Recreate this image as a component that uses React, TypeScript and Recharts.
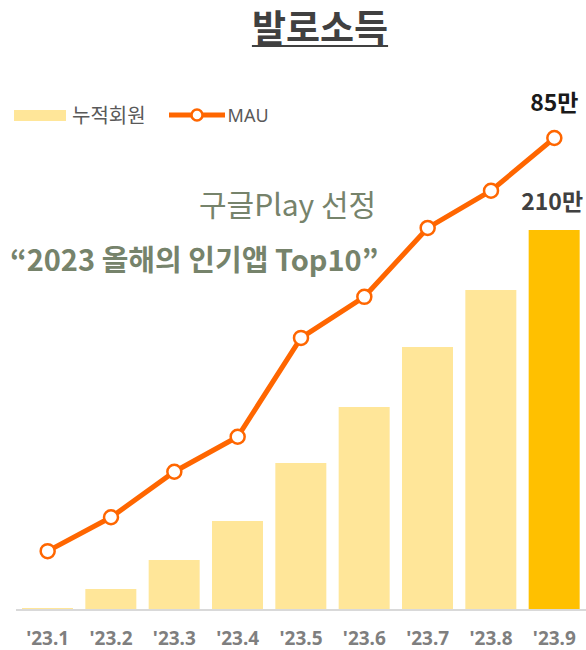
import React from "react";
import { ComposedChart, Bar, Line, XAxis, YAxis, Cell, LabelList } from "recharts";

const categories = ["'23.1", "'23.2", "'23.3", "'23.4", "'23.5", "'23.6", "'23.7", "'23.8", "'23.9"];
const members = [1.1, 11.6, 27.6, 49.2, 81.2, 112.2, 145.3, 176.8, 210];
const mau = [10.6, 16.7, 24.9, 31.2, 49.0, 56.4, 68.8, 75.5, 85];
const memberLabels = ["", "", "", "", "", "", "", "", "210만"];
const mauLabels = ["", "", "", "", "", "", "", "", "85만"];

const data = categories.map((c, i) => ({
  cat: c,
  members: members[i],
  mau: mau[i],
  mLabel: memberLabels[i],
  uLabel: mauLabels[i],
}));

const KR = "'Noto Sans CJK KR', 'Noto Sans', sans-serif";

const Tick = (props: any) => {
  const { x, y, payload } = props;
  return (
    <text x={x} y={y + 27} textAnchor="middle" fill="#7f7f7f" fontSize={19} fontWeight={700} fontFamily="'Noto Sans', sans-serif">
      {payload.value}
    </text>
  );
};

const BarLabel = (props: any) => {
  const { x, y, width, value } = props;
  if (!value) return null;
  return (
    <text x={x + width / 2 - 2} y={y - 20} textAnchor="middle" fill="#404040" fontSize={23} fontWeight={700} fontFamily={KR}>
      {value}
    </text>
  );
};

const LineLabel = (props: any) => {
  const { x, y, value } = props;
  if (!value) return null;
  return (
    <text x={x} y={y - 27} textAnchor="middle" fill="#1a1a1a" fontSize={23} fontWeight={700} fontFamily={KR}>
      {value}
    </text>
  );
};

export default function App() {
  return (
    <div style={{ position: "relative", width: 586, height: 650, overflow: "hidden" }}>
      <style>{`html, body { margin: 0; padding: 0; overflow: hidden; }`}</style>
      <ComposedChart
        width={586}
        height={650}
        data={data}
        margin={{ top: 138, right: 0, left: 16, bottom: 0 }}
        style={{ position: "absolute", left: 0, top: 0 }}
      >
        <XAxis
          dataKey="cat"
          height={40}
          axisLine={{ stroke: "#d9d9d9", strokeWidth: 2 }}
          tickLine={false}
          tick={<Tick />}
          interval={0}
        />
        <YAxis yAxisId="bar" hide domain={[0, 260.8]} />
        <YAxis yAxisId="line" hide domain={[0, 85]} orientation="right" />
        <Bar yAxisId="bar" dataKey="members" barSize={51} isAnimationActive={false}>
          {data.map((d, i) => (
            <Cell key={i} fill={i === data.length - 1 ? "#FFC000" : "#FFE699"} />
          ))}
          <LabelList dataKey="mLabel" content={<BarLabel />} />
        </Bar>
        <Line
          yAxisId="line"
          dataKey="mau"
          stroke="#FF6600"
          strokeWidth={5}
          dot={{ r: 7, fill: "#fff", stroke: "#FF6600", strokeWidth: 2.5 }}
          activeDot={false}
          isAnimationActive={false}
        >
          <LabelList dataKey="uLabel" content={<LineLabel />} />
        </Line>
      </ComposedChart>
      <div
        style={{
          position: "absolute",
          left: 200,
          width: 240,
          top: 2,
          textAlign: "center",
          fontFamily: KR,
          fontWeight: 700,
          fontSize: 37,
          color: "#404040",
          lineHeight: "48px",
        }}
      >
        <span
          style={{
            textDecoration: "underline",
            textUnderlineOffset: 3,
            textDecorationThickness: 2,
          }}
        >
          발로소득
        </span>
      </div>
      <div
        style={{
          position: "absolute",
          left: 14,
          top: 102,
          display: "flex",
          alignItems: "center",
          fontFamily: KR,
          color: "#595959",
          lineHeight: "26px",
        }}
      >
        <div style={{ width: 52, height: 11, background: "#FFE699", marginRight: 6 }} />
        <span style={{ fontSize: 20, marginRight: 22 }}>누적회원</span>
        <svg width={58} height={16} style={{ marginRight: 2 }}>
          <line x1={1} y1={8} x2={57} y2={8} stroke="#FF6600" strokeWidth={5} />
          <circle cx={29} cy={8} r={5.5} fill="#fff" stroke="#FF6600" strokeWidth={2.5} />
        </svg>
        <span style={{ fontSize: 18, fontFamily: "'Noto Sans', sans-serif" }}>MAU</span>
      </div>
      <div
        style={{
          position: "absolute",
          left: 199,
          top: 183,
          fontFamily: KR,
          fontSize: 30,
          color: "#76836B",
          lineHeight: "40px",
          whiteSpace: "nowrap",
        }}
      >
        구글Play 선정
      </div>
      <div
        style={{
          position: "absolute",
          left: 10,
          top: 238,
          fontFamily: KR,
          fontSize: 29,
          fontWeight: 700,
          color: "#76836B",
          lineHeight: "40px",
          whiteSpace: "nowrap",
        }}
      >
        “2023 올해의 인기앱 Top10”
      </div>
    </div>
  );
}
